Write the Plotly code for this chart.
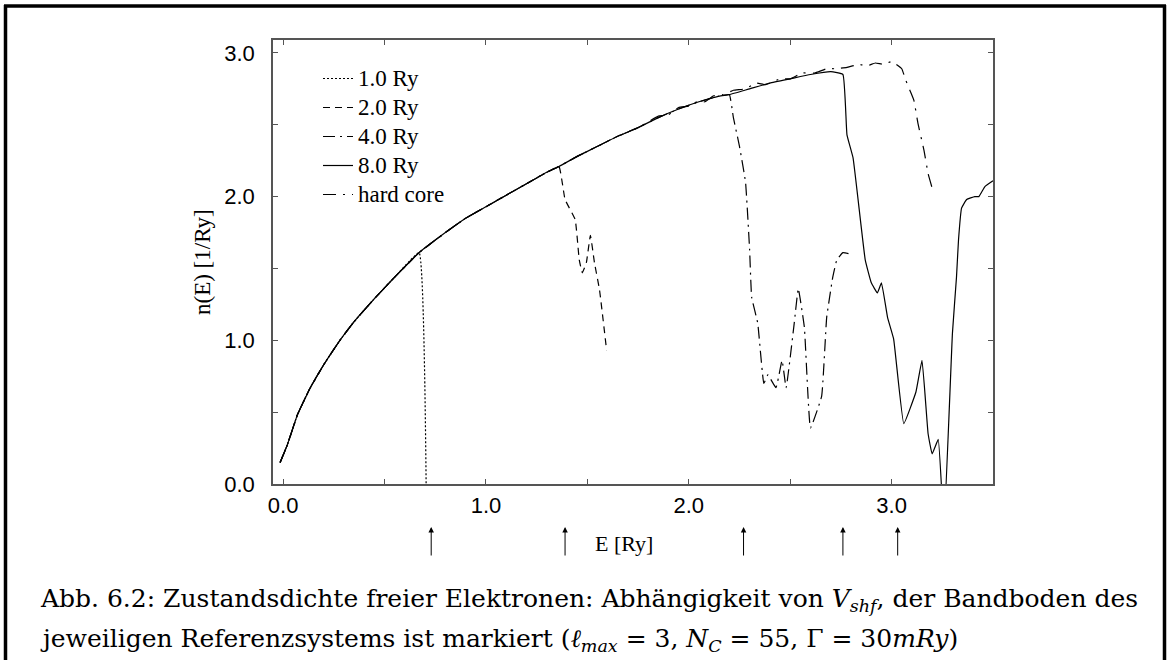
import plotly.graph_objects as go

# ---------------- data ----------------
common_E = [-0.015, 0.02, 0.07, 0.13, 0.20, 0.28, 0.35, 0.45, 0.55, 0.67, 0.80, 0.90,
            1.00, 1.10, 1.20, 1.30, 1.36, 1.45, 1.55, 1.65, 1.75, 1.85, 1.95, 2.05,
            2.15, 2.20, 2.30, 2.40, 2.50, 2.60, 2.70]
common_n = [0.15, 0.27, 0.48, 0.66, 0.83, 1.00, 1.13, 1.29, 1.44, 1.61, 1.75, 1.85,
            1.93, 2.01, 2.09, 2.17, 2.21, 2.28, 2.35, 2.42, 2.48, 2.55, 2.61, 2.66,
            2.70, 2.71, 2.75, 2.79, 2.82, 2.85, 2.87]

tail_1_E = [0.705]
tail_1_n = [0.0]

tail_2_E = [1.39, 1.44, 1.46, 1.475, 1.495, 1.515, 1.535, 1.56, 1.595]
tail_2_n = [1.98, 1.84, 1.56, 1.47, 1.54, 1.73, 1.54, 1.35, 0.93]

tail_4_E = [2.22, 2.25, 2.28, 2.30, 2.31, 2.34, 2.37, 2.39, 2.43, 2.46, 2.48, 2.52, 2.54,
            2.57, 2.60, 2.655, 2.68, 2.71, 2.73, 2.76, 2.80]
tail_4_n = [2.55, 2.35, 2.10, 1.63, 1.30, 1.12, 0.70, 0.76, 0.67, 0.86, 0.67, 1.12, 1.36,
            1.09, 0.39, 0.61, 1.16, 1.44, 1.56, 1.61, 1.60]

tail_8_E = [2.76, 2.78, 2.81, 2.87, 2.90, 2.93, 2.95, 2.98, 3.01, 3.06, 3.12, 3.15, 3.18,
            3.20, 3.23, 3.258, 3.30, 3.32, 3.33, 3.345, 3.37, 3.41, 3.43, 3.46, 3.50]
tail_8_n = [2.85, 2.43, 2.27, 1.56, 1.40, 1.33, 1.40, 1.16, 1.01, 0.42, 0.64, 0.86, 0.35,
            0.21, 0.31, -0.30, 1.05, 1.44, 1.70, 1.92, 1.98, 2.00, 2.00, 2.07, 2.11]

tail_hc_E = [1.85, 1.90, 1.95, 2.00, 2.04, 2.08, 2.12, 2.17, 2.22, 2.28, 2.33, 2.38, 2.45,
             2.50, 2.56, 2.62, 2.68, 2.73, 2.78, 2.84, 2.88, 2.92, 2.96, 3.00, 3.05,
             3.07, 3.09, 3.11, 3.13, 3.16, 3.18, 3.20]
tail_hc_n = [2.56, 2.57, 2.62, 2.63, 2.66, 2.66, 2.70, 2.71, 2.74, 2.75, 2.79, 2.78, 2.82,
             2.82, 2.86, 2.86, 2.89, 2.89, 2.90, 2.92, 2.91, 2.93, 2.92, 2.94, 2.89,
             2.81, 2.74, 2.67, 2.51, 2.32, 2.16, 2.06]

series_names = ["1.0 Ry", "2.0 Ry", "4.0 Ry", "8.0 Ry", "hard core"]
series_cut = [0.67, 1.36, 2.20, 2.70, 1.80]   # last common energy used by each series
series_tails = [(tail_1_E, tail_1_n), (tail_2_E, tail_2_n), (tail_4_E, tail_4_n),
                (tail_8_E, tail_8_n), (tail_hc_E, tail_hc_n)]
series_dash = ["2px,2px", "7px,5px", "12px,5px,2px,5px", "solid", "13px,7px,2px,7px"]

band_bottoms = [0.73, 1.39, 2.27, 2.76, 3.03]

x_ticks = [0, 0.5, 1.0, 1.5, 2.0, 2.5, 3.0, 3.5]
x_ticktext = ["0.0", "", "1.0", "", "2.0", "", "3.0", ""]
y_ticks = [0, 0.5, 1.0, 1.5, 2.0, 2.5, 3.0]
y_ticktext = ["0.0", "", "1.0", "", "2.0", "", "3.0"]

caption_1 = ("Abb. 6.2: Zustandsdichte freier Elektronen: Abhängigkeit von "
             "<i>V</i><sub><i>shf</i></sub>, der Bandboden des")
caption_2 = ("jeweiligen Referenzsystems ist markiert (<i>ℓ</i><sub><i>max</i></sub> = 3, "
             "<i>N</i><sub><i>C</i></sub> = 55, Γ = 30<i>mRy</i>)")

# ---------------- geometry helpers ----------------
W, H = 1168, 669
L, R, T, B = 273, 993, 40, 484


def px(x):
    return (x - L) / (R - L)


def py(y):
    return (B - y) / (B - T)


fig = go.Figure()

for name, cut, (tE, tn), dash in zip(series_names, series_cut, series_tails, series_dash):
    E = [e for e in common_E if e <= cut] + tE
    n = [v for e, v in zip(common_E, common_n) if e <= cut] + tn
    fig.add_trace(go.Scatter(x=E, y=n, mode="lines",
                             name='<span style="font-size:23px">' + name + '</span>',
                             line_shape="spline",
                             line=dict(color="black", width=1.2, dash=dash, smoothing=0.3)))

serif = "Liberation Serif"
cap_font = "DejaVu Serif"
sans = "Liberation Sans"

annotations = []
for e in band_bottoms:
    annotations.append(dict(x=e, xref="x", y=py(527), yref="paper", text="",
                            showarrow=True, arrowhead=2, arrowsize=1.1, arrowwidth=1,
                            arrowcolor="black", ax=0, ay=30, standoff=0))

annotations.append(dict(x=px(624), y=py(543), xref="paper", yref="paper", text="E [Ry]",
                        showarrow=False, font=dict(family=serif, size=22, color="black"),
                        xanchor="center", yanchor="middle"))
annotations.append(dict(x=px(202), y=py(262), xref="paper", yref="paper", text="n(E) [1/Ry]",
                        showarrow=False, textangle=-90,
                        font=dict(family=serif, size=23, color="black"),
                        xanchor="center", yanchor="middle"))
annotations.append(dict(x=px(38), y=py(600), xref="paper", yref="paper", text=caption_1,
                        showarrow=False, font=dict(family=cap_font, size=25, color="black"),
                        xanchor="left", yanchor="middle"))
annotations.append(dict(x=px(38), y=py(640), xref="paper", yref="paper", text=caption_2,
                        showarrow=False, font=dict(family=cap_font, size=25, color="black"),
                        xanchor="left", yanchor="middle"))

shapes = [
    dict(type="line", xref="paper", yref="paper", x0=px(5.5), x1=px(5.5), y0=py(5), y1=py(660),
         line=dict(color="black", width=3.5)),
    dict(type="line", xref="paper", yref="paper", x0=px(4), x1=px(1166), y0=py(6), y1=py(6),
         line=dict(color="black", width=3.5)),
    dict(type="line", xref="paper", yref="paper", x0=px(1164.5), x1=px(1164.5), y0=py(5), y1=py(660),
         line=dict(color="black", width=3.5)),
]

axis_common = dict(showgrid=False, zeroline=False, showline=True, linecolor="#555555",
                   linewidth=1.5, mirror="ticks", ticks="inside", ticklen=5, tickwidth=1,
                   tickcolor="#555555", tickfont=dict(family=sans, size=22, color="black"))

fig.update_layout(
    width=W, height=H,
    margin=dict(l=L, r=W - R, t=T, b=H - B, pad=0),
    paper_bgcolor="white", plot_bgcolor="white",
    xaxis=dict(range=[-0.05, 3.5], tickmode="array", tickvals=x_ticks, ticktext=x_ticktext,
               ticklabelstandoff=1, **axis_common),
    yaxis=dict(range=[0, 3.09], tickmode="array", tickvals=y_ticks, ticktext=y_ticktext,
               ticklabelstandoff=12, **axis_common),
    legend=dict(x=px(318), y=py(59), xanchor="left", yanchor="top",
                font=dict(family=serif, size=20, color="black"),
                bgcolor="rgba(0,0,0,0)", itemwidth=30, tracegroupgap=0),
    showlegend=True,
    annotations=annotations,
    shapes=shapes,
)

fig.write_html("out.html")
